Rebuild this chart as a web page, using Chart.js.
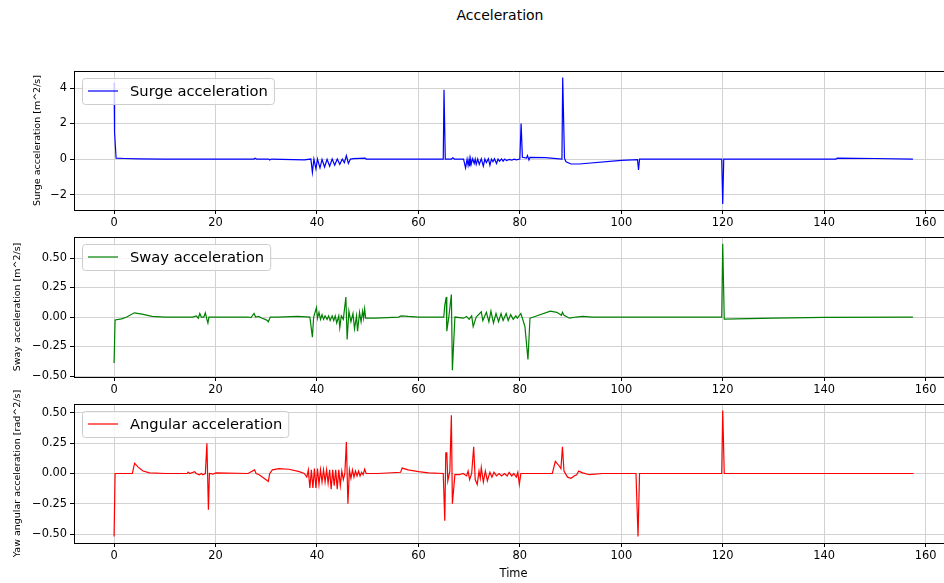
<!DOCTYPE html>
<html>
<head>
<meta charset="utf-8">
<title>Acceleration</title>
<script src="https://cdn.jsdelivr.net/npm/chart.js@4.4.0/dist/chart.umd.min.js"></script>
<style>
    body { margin: 0; background: #fff; width: 944px; height: 583px; overflow: hidden; position: relative; font-family: "DejaVu Sans", sans-serif; }
    #title { position: absolute; left: 0; top: 7px; width: 1000px; text-align: center; font-size: 14px; color: #000; }
    canvas { position: absolute; left: 0; }
</style>
</head>
<body>
<div id="title">Acceleration</div>
<canvas id="surgeChart" width="1000" height="235" style="top:0px"></canvas>
<canvas id="swayChart" width="1000" height="180" style="top:222px"></canvas>
<canvas id="yawChart" width="1000" height="203" style="top:380px"></canvas>
<script>
// Time axis ticks (seconds)
const xTicks = [0, 20, 40, 60, 80, 100, 120, 140, 160];

// Surge acceleration [m^2/s]
const surgeTime = [0, 0.1, 0.4, 2, 5, 10, 16, 27.6, 27.8, 28.1, 30.5, 30.7, 31, 37.5, 38.8, 39.1, 39.4, 39.8, 40.1,
    40.6, 41.0, 41.5, 42, 42.5, 43, 43.5, 44, 44.5, 45, 45.4, 45.8, 46.2, 46.6, 47.2, 49.5, 49.7, 50,
    64.9, 65.05, 65.3, 66.5, 66.8, 67.1, 68.9, 69.3, 69.6, 69.8, 70.0, 70.1, 70.3, 70.4, 70.7, 71.0, 71.2, 71.4,
    71.7, 72.0, 72.4, 72.8, 73.1, 73.4, 73.8, 74.1, 74.4, 74.7, 75.0, 75.4, 75.7, 76.0, 76.4, 76.7, 77.0, 77.4,
    77.9, 78.4, 78.9, 79.3, 80.0, 80.25, 80.5, 81.3, 81.5, 81.8, 82.0, 85, 88.3, 88.45, 88.8, 89.1, 90.1,
    91.7, 100, 103.2, 103.4, 103.6, 119.8, 120.0, 120.2, 142.3, 142.6, 150, 157.5];
const surgeValues = [4.3, 1.5, 0.05, 0.03, 0.01, 0.0, 0.0, 0.0, 0.05, 0.0, 0.0, -0.05, 0.0, -0.05, 0.0, -0.75, 0.0,
    -0.55, 0.0, -0.5, -0.02, -0.45, -0.02, -0.4, 0.0, -0.35, 0.0, -0.3, 0.0, -0.2, 0.2, -0.25, 0.0, 0.02, 0.05, 0.0, 0.0,
    0.0, 3.9, 0.0, 0.0, 0.07, 0.0, 0.0, -0.5, 0.0, -0.35, 0.0, -0.4, 0.0, -0.3, 0.02, -0.25, 0.0, -0.3,
    0.0, -0.3, 0.02, -0.4, 0.0, -0.2, 0.02, -0.35, 0.0, -0.15, 0.02, -0.25, 0.0, -0.12, 0.01, -0.12, 0.0, -0.08,
    -0.02, -0.06, -0.01, -0.04, 0.0, 2.0, 0.1, 0.05, 0.2, -0.05, 0.1, 0.08, 0.0, 4.6, 0.05, -0.15, -0.28,
    -0.28, -0.08, -0.03, -0.62, 0.0, 0.0, -2.53, 0.0, 0.0, 0.05, 0.03, 0.0];

// Sway acceleration [m^2/s]
const swayTime = [0, 0.2, 1.5, 2.5, 4.0, 5.5, 7.5, 10, 15.5, 16.2, 16.6, 16.9, 17.2, 17.7, 18.0, 18.3, 18.5, 18.7,
    19.2, 26.4, 27.0, 27.6, 27.9, 28.5, 29.2, 29.8, 30.2, 30.4, 30.8, 32.3, 36.2, 38.6, 39.1, 39.35, 39.9, 40.1,
    40.4, 40.7, 41.0, 41.3, 41.6, 42.0, 42.3, 42.6, 43.0, 43.3, 43.6, 43.9, 44.3, 44.5, 44.8, 45.2, 45.7, 45.95,
    46.3, 46.7, 47.1, 47.4, 47.8, 48.0, 48.4, 48.7, 49.0, 49.2, 49.4, 49.6, 51.5, 56.1, 56.6, 58, 60,
    65.0, 65.2, 65.5, 65.6, 66.0, 66.5, 66.7, 67.2, 68.9, 69.5, 70.0, 70.5, 70.8, 71.4, 72.4, 72.7, 73.4, 73.9,
    74.3, 74.8, 75.3, 75.8, 76.3, 76.7, 77.3, 77.7, 78.2, 78.7, 79.2, 79.5, 80.2, 80.5, 81.0, 81.6, 82.0, 82.7,
    86.0, 87.3, 88.2, 88.4, 88.7, 89.8, 91.1, 92.4, 94.3, 119.8, 120.0, 120.3, 130, 140, 157.5];
const swayValues = [-0.39, -0.025, -0.015, 0.0, 0.036, 0.025, 0.005, 0.0, 0.0, 0.01, -0.01, 0.03, 0.0, 0.0, 0.036, -0.02,
    -0.05, 0.0, 0.0, 0.0, -0.005, 0.03, 0.0, 0.005, -0.01, -0.02, -0.03, -0.04, 0.0, 0.0, 0.005, 0.0, -0.17, 0.0, 0.08,
    -0.01, 0.04, -0.02, 0.02, -0.02, 0.01, -0.02, 0.01, -0.03, 0.01, -0.03, 0.01, -0.05, 0.01, -0.09, 0.01, -0.02, 0.17,
    -0.19, 0.05, -0.04, 0.03, -0.1, 0.01, -0.12, 0.04, -0.04, 0.05, -0.01, 0.07, -0.01, -0.01, 0.0, 0.01, 0.005, 0.0,
    0.0, 0.1, 0.17, -0.12, 0.0, 0.19, -0.45, 0.0, -0.01, 0.005, -0.02, 0.01, -0.08, 0.0, 0.045, -0.03, 0.04, -0.04,
    0.05, -0.05, 0.03, -0.04, 0.03, -0.03, 0.03, -0.03, 0.02, -0.02, 0.01, -0.01, 0.03, -0.01, -0.08, -0.36, -0.01, 0.0,
    0.05, 0.04, 0.015, 0.04, 0.015, -0.01, 0.0, 0.005, 0.0, 0.0, 0.62, -0.018, -0.01, -0.003, 0.0];

// Yaw angular acceleration [rad^2/s]
const yawTime = [0, 0.2, 3.6, 4.05, 4.7, 5.7, 7.0, 10.2, 14.4, 14.6, 14.9, 15.9, 16.2, 16.8, 17.2, 17.5, 18.0, 18.3,
    18.6, 18.8, 19.5, 20.1, 26.4, 27.7, 28.0, 28.6, 29.9, 30.4, 30.7, 31.2, 32.5, 34.5, 36.5, 37.5, 38.0, 38.3, 38.6,
    38.9, 39.2, 39.5, 39.8, 40.1, 40.4, 40.7, 41.0, 41.3, 41.6, 41.9, 42.2, 42.5, 42.8, 43.1, 43.4, 43.7, 44.0, 44.3,
    44.6, 44.9, 45.2, 45.5, 45.8, 46.1, 46.4, 46.7, 47.0, 47.3, 47.6, 47.9, 48.2, 48.5, 48.8, 49.1, 49.4, 49.7, 52,
    56.5, 56.8, 58, 60, 62, 64.9, 65.2, 65.4, 65.6, 65.8, 66.2, 66.5, 66.7, 67.2, 68.1, 68.8, 69.5, 69.8, 70.1, 70.5,
    70.9, 71.2, 71.6, 71.95, 72.2, 72.4, 72.8, 73.2, 73.6, 74.1, 74.5, 74.9, 75.4, 75.9, 76.4, 77.0, 77.5, 77.9, 78.4,
    78.8, 79.3, 79.6, 79.9, 80.2, 86.4, 87.0, 87.8, 88.1, 88.4, 88.7, 89.4, 90.1, 90.7, 91.2, 91.6, 92.4, 93.7, 96.3,
    102.9, 103.3, 103.6, 119.8, 120.0, 120.3, 157.6];
const yawValues = [-0.52, 0.0, 0.0, 0.085, 0.055, 0.02, 0.005, 0.0, 0.0, 0.012, 0.0, 0.015, 0.0, -0.01, 0.0, -0.01, 0.0,
    0.25, -0.3, 0.0, -0.005, 0.005, 0.0, 0.03, 0.0, -0.01, -0.05, -0.065, 0.0, 0.03, 0.04, 0.035, 0.015, 0.0, -0.03,
    0.03, -0.12, 0.03, -0.12, 0.04, -0.12, 0.04, -0.09, 0.03, -0.07, 0.03, -0.07, 0.03, -0.08, 0.03, -0.13, 0.03, -0.1,
    0.03, -0.13, 0.03, -0.1, 0.02, -0.05, 0.0, 0.26, -0.25, 0.03, -0.04, 0.03, -0.03, 0.02, -0.02, 0.02, -0.02, 0.01,
    -0.01, 0.035, 0.0, 0.0, 0.01, 0.045, 0.03, 0.015, 0.005, 0.0, -0.39, 0.17, 0.17, -0.06, 0.02, 0.48, -0.25, -0.01,
    -0.01, 0.0, -0.02, 0.02, -0.05, 0.0, 0.22, -0.05, -0.09, 0.02, -0.04, 0.05, -0.07, 0.02, -0.06, 0.01, -0.03, 0.01,
    -0.02, 0.0, -0.02, 0.0, -0.02, 0.01, -0.02, 0.0, -0.03, 0.01, -0.09, 0.0, 0.0, 0.1, 0.06, 0.04, 0.22, 0.02, -0.03,
    -0.04, -0.02, -0.01, 0.02, 0.005, -0.01, 0.0, 0.0, -0.52, 0.0, 0.0, 0.52, 0.0, 0.0];

// Y-axis tick values per panel
const surgeTicks = [-2, 0, 2, 4];
const swayTicks = [-0.5, -0.25, 0, 0.25, 0.5];
const yawTicks = [-0.5, -0.25, 0, 0.25, 0.5];

const FONT = '"DejaVu Sans", sans-serif';
const X_MIN = -7.9, X_MAX = 165.4;
const AXIS_LEFT = 74, AXIS_RIGHT = 953, CANVAS_W = 1000;

function toPoints(times, values) {
    return times.map((t, i) => ({ x: t, y: values[i] }));
}

function minusSign(text) {
    return text.replace('-', '\u2212');
}

// Legend box drawn inside the plot area (upper left) plus the top/right spines
const framePlugin = {
    id: 'frame',
    afterDraw(chart) {
        const ctx = chart.ctx;
        const a = chart.chartArea;
        ctx.save();
        ctx.strokeStyle = '#000';
        ctx.lineWidth = 1;
        ctx.beginPath();
        ctx.moveTo(a.left, a.top + 0.5);
        ctx.lineTo(a.right + 0.5, a.top + 0.5);
        ctx.lineTo(a.right + 0.5, a.bottom);
        ctx.stroke();

        const ds = chart.data.datasets[0];
        ctx.font = '14.7px ' + FONT;
        const tw = ctx.measureText(ds.label).width;
        const x0 = a.left + 8, y0 = a.top + 7, h = 26, w = 48 + tw + 6;
        ctx.beginPath();
        ctx.roundRect(x0 + 0.5, y0 + 0.5, w, h, 3);
        ctx.fillStyle = 'rgba(255,255,255,0.8)';
        ctx.fill();
        ctx.strokeStyle = '#cccccc';
        ctx.stroke();
        ctx.beginPath();
        ctx.moveTo(x0 + 6, y0 + h / 2);
        ctx.lineTo(x0 + 36, y0 + h / 2);
        ctx.strokeStyle = ds.borderColor;
        ctx.lineWidth = 1.2;
        ctx.stroke();
        ctx.fillStyle = '#000';
        ctx.textBaseline = 'middle';
        ctx.fillText(ds.label, x0 + 48, y0 + h / 2 + 1);
        ctx.restore();
    }
};

function makePanel(id, cfg) {
    const canvas = document.getElementById(id);
    const top = parseFloat(canvas.style.top);
    const height = canvas.height;
    new Chart(canvas, {
        type: 'line',
        data: {
            datasets: [{
                label: cfg.label,
                data: toPoints(cfg.times, cfg.values),
                borderColor: cfg.color,
                borderWidth: 1.2,
                pointRadius: 0,
                tension: 0,
                fill: false
            }]
        },
        options: {
            responsive: false,
            animation: false,
            events: [],
            layout: {
                padding: { top: cfg.plotTop - top, left: 0, right: CANVAS_W - AXIS_RIGHT, bottom: 0 }
            },
            scales: {
                x: {
                    type: 'linear',
                    min: X_MIN,
                    max: X_MAX,
                    afterBuildTicks: (scale) => { scale.ticks = xTicks.map(v => ({ value: v })); },
                    afterFit: (scale) => { scale.height = top + height - cfg.plotBottom; },
                    ticks: {
                        color: '#000',
                        font: { family: FONT, size: 11.4 },
                        padding: 2,
                        maxRotation: 0,
                        callback: (v) => String(v)
                    },
                    grid: { color: '#d2d2d2', lineWidth: 1, tickColor: '#000', tickLength: 4 },
                    border: { display: true, color: '#000', width: 1 },
                    title: {
                        display: cfg.showTime,
                        text: 'Time',
                        color: '#000',
                        font: { family: FONT, size: 11.4 },
                        padding: { top: 0, bottom: 2 }
                    }
                },
                y: {
                    type: 'linear',
                    min: cfg.yMin,
                    max: cfg.yMax,
                    afterBuildTicks: (scale) => { scale.ticks = cfg.yTicks.map(v => ({ value: v })); },
                    afterFit: (scale) => { scale.width = AXIS_LEFT; },
                    ticks: {
                        color: '#000',
                        font: { family: FONT, size: 11.4 },
                        padding: 3,
                        callback: (v) => minusSign(cfg.decimals ? v.toFixed(cfg.decimals) : String(v))
                    },
                    grid: { color: '#d2d2d2', lineWidth: 1, tickColor: '#000', tickLength: 4 },
                    border: { display: true, color: '#000', width: 1 },
                    title: {
                        display: true,
                        text: cfg.yTitle,
                        color: '#000',
                        font: { family: FONT, size: 9.5 },
                        padding: { top: cfg.titleOffset, bottom: 0 }
                    }
                }
            },
            plugins: {
                legend: { display: false },
                tooltip: { enabled: false }
            }
        },
        plugins: [framePlugin]
    });
}

makePanel('surgeChart', {
    label: 'Surge acceleration', color: '#0000ff',
    times: surgeTime, values: surgeValues,
    yMin: -2.87, yMax: 4.96, yTicks: surgeTicks, decimals: 0,
    yTitle: 'Surge acceleration [m^2/s]', titleOffset: 32,
    plotTop: 71, plotBottom: 210, showTime: false
});

makePanel('swayChart', {
    label: 'Sway acceleration', color: '#008000',
    times: swayTime, values: swayValues,
    yMin: -0.508, yMax: 0.678, yTicks: swayTicks, decimals: 2,
    yTitle: 'Sway acceleration [m^2/s]', titleOffset: 12,
    plotTop: 237, plotBottom: 377, showTime: false
});

makePanel('yawChart', {
    label: 'Angular acceleration', color: '#ff0000',
    times: yawTime, values: yawValues,
    yMin: -0.574, yMax: 0.574, yTicks: yawTicks, decimals: 2,
    yTitle: 'Yaw angular acceleration [rad^2/s]', titleOffset: 12,
    plotTop: 404, plotBottom: 543, showTime: true
});
</script>
</body>
</html>
